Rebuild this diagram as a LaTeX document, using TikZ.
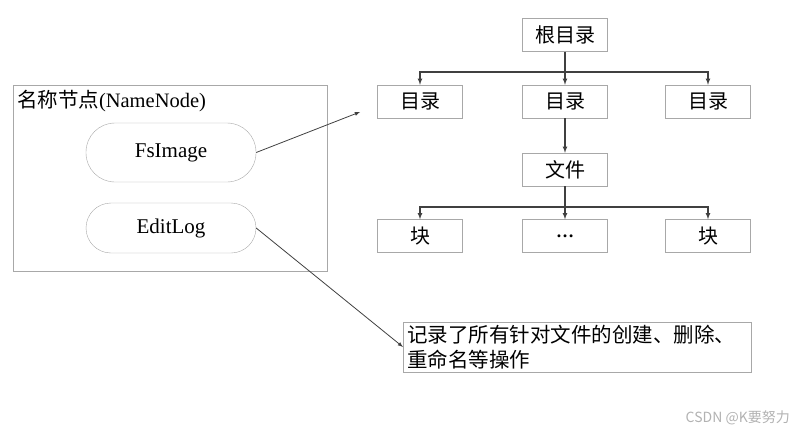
\documentclass[tikz,border=0pt]{standalone}
\usepackage{fontspec}
\setmainfont{Liberation Serif}
\newfontfamily\cjk{Noto Sans CJK SC}
\usepackage{tikz}
\usetikzlibrary{arrows,positioning,calc}
\definecolor{trait}{HTML}{404040}
\definecolor{bord}{HTML}{A8A8A8}

\begin{document}
\begin{tikzpicture}[x=1pt,y=-1pt]
\tikzstyle{fleche}=[->,>=latex,draw=trait,line width=1.1pt]
\tikzstyle{lien}=[draw=trait,line width=1.1pt]
\tikzstyle{boite}=[draw=bord,fill=white,minimum width=85pt,minimum height=33pt,inner sep=0pt,font=\cjk\fontsize{20}{20}\selectfont]
\tikzstyle{pilule}=[draw=bord,minimum width=170pt,inner sep=0pt,font=\fontsize{21}{21}\selectfont]
\def\NiveauA{35}
\def\NiveauB{101.5}
\def\NiveauC{169.5}
\def\NiveauD{236}
\def\ColG{420}
\def\ColM{565}
\def\ColD{708}
\useasboundingbox (0,0) rectangle (802,436);
% namenode
\node[draw=bord,minimum width=314pt,minimum height=186pt,inner sep=0pt] (NN) at (170,178) {};
\node[anchor=west,inner sep=0pt,font=\fontsize{20.5}{20.5}\selectfont] (Titre) at ($(NN.north west)+(4,16)$) {{\cjk 名称节点}(NameNode)};
\node[pilule,minimum height=59pt,rounded corners=29pt] (Fs) at (171,152.5) {FsImage};
\node[pilule,minimum height=50pt,rounded corners=25pt] (Ed) at (171,228) {EditLog};
% arbre
\node[boite] (R) at (\ColM,\NiveauA) {根目录};
\node[boite] (Ra) at (\ColG,\NiveauB) {目录};
\node[boite] (Rb) at (\ColM,\NiveauB) {目录};
\node[boite] (Rc) at (\ColD,\NiveauB) {目录};
\node[boite] (F) at (\ColM,\NiveauC) {文件};
\node[boite] (Fa) at (\ColG,\NiveauD) {块};
\node[boite,font=\bfseries\fontsize{18}{18}\selectfont] (Fb) at (\ColM,\NiveauD) {…};
\node[boite] (Fc) at (\ColD,\NiveauD) {块};
\coordinate (BusR) at (\ColM,72);
\coordinate (BusF) at (\ColM,207);
\draw[lien] (R)--(BusR);
\draw[fleche] (BusR)-|(Ra);
\draw[fleche] (BusR)--(Rb);
\draw[fleche] (BusR)-|(Rc);
\draw[fleche] (Rb)--(F);
\draw[lien] (F)--(BusF);
\draw[fleche] (BusF)-|(Fa);
\draw[fleche] (BusF)--(Fb);
\draw[fleche] (BusF)-|(Fc);
% note
\node[boite,anchor=west,minimum width=348pt,minimum height=50pt,text width=340pt,inner xsep=4pt,align=left,font=\cjk\fontsize{20.5}{25}\selectfont] (Note) at (403,347) {记录了所有针对文件的创建、删除、\\重命名等操作};
\coordinate (Cible) at (360,112);
\draw[fleche,line width=0.8pt] (Fs.east)--(Cible);
\draw[fleche,line width=0.8pt] (Ed.east)--(Note.west);
% filigrane
\node[anchor=east,inner sep=0pt,text=gray!60,font=\cjk\fontsize{14}{14}\selectfont] (CSDN) at (790,418) {CSDN @K要努力};
\end{tikzpicture}
\end{document}
